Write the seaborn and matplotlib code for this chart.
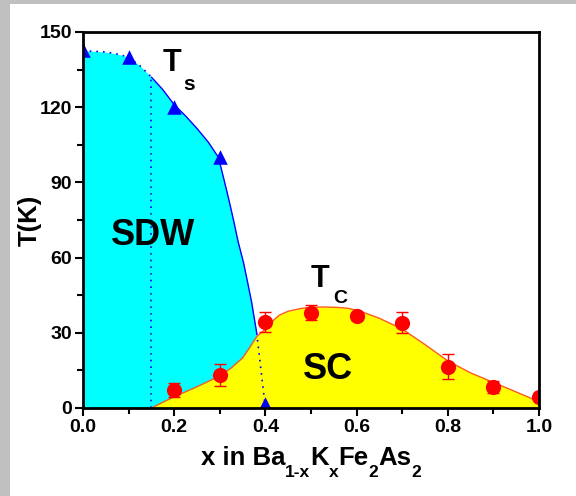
import numpy as np
import pandas as pd
import matplotlib
matplotlib.use("Agg")
import matplotlib.pyplot as plt
from matplotlib.patches import Rectangle
import seaborn as sns

# ---- data ----
ts_x = [0.0, 0.1, 0.2, 0.3, 0.4]
ts_T = [143.0, 140.0, 120.0, 100.0, 1.5]

tc_x = [0.2, 0.3, 0.4, 0.5, 0.6, 0.7, 0.8, 0.9, 1.0]
tc_T = [7.2, 13.2, 34.4, 38.0, 36.7, 34.0, 16.5, 8.5, 4.3]
tc_err = [2.8, 4.5, 4.0, 3.0, 1.5, 4.2, 5.1, 2.4, 1.0]

# boundary of the SDW phase (Ts line)
ts_line_x = [0.0, 0.025, 0.05, 0.075, 0.1, 0.125, 0.15, 0.175, 0.2, 0.225, 0.25,
             0.275, 0.297, 0.31, 0.32, 0.33, 0.34, 0.352, 0.36, 0.37, 0.381, 0.4]
ts_line_T = [142.5, 142.3, 142.0, 141.2, 140.0, 136.5, 132.0, 127.0, 121.0, 116.5, 111.5,
             106.0, 100.0, 90.5, 83.0, 75.0, 66.5, 58.0, 51.0, 42.0, 29.8, 0.0]

# boundary of the SC dome (Tc line)
tc_line_x = [0.15, 0.175, 0.2, 0.25, 0.3, 0.325, 0.35, 0.365, 0.381, 0.4, 0.415, 0.43,
             0.45, 0.475, 0.5, 0.53, 0.56, 0.58, 0.6, 0.62, 0.65, 0.7, 0.75, 0.8,
             0.85, 0.9, 0.95, 1.0]
tc_line_T = [0.0, 2.3, 4.5, 8.5, 12.8, 16.0, 20.0, 24.0, 28.5, 31.5, 34.5, 37.0,
             38.6, 39.6, 40.2, 40.3, 40.1, 39.8, 39.0, 37.8, 35.8, 31.5, 25.3, 18.8,
             14.0, 10.2, 6.4, 2.5]

sdw_start = 0.15
sdw_start_T = 132.0

x_ticks = [0.0, 0.2, 0.4, 0.6, 0.8, 1.0]
y_ticks = [0, 30, 60, 90, 120, 150]

xlabel_parts = [("x in Ba", False), ("1-x", True), ("K", False), ("x", True),
                ("Fe", False), ("2", True), ("As", False), ("2", True)]

# ---- style ----
sns.set_style("ticks")
plt.rcParams["font.family"] = ["Liberation Sans", "DejaVu Sans"]
plt.rcParams["font.weight"] = "bold"
for k in ["text.color", "axes.labelcolor", "xtick.color", "ytick.color", "axes.edgecolor"]:
    plt.rcParams[k] = "black"

W, H = 576, 496
fig = plt.figure(figsize=(W / 100, H / 100), dpi=100)
fig.patch.set_facecolor("white")
fig.patches.append(Rectangle((0, 0), 10 / W, 1, transform=fig.transFigure,
                             facecolor="#c0c0c0", edgecolor="none", zorder=-10))
fig.patches.append(Rectangle((0, 1 - 4 / H), 1, 4 / H, transform=fig.transFigure,
                             facecolor="#c0c0c0", edgecolor="none", zorder=-10))

ax = fig.add_axes([83 / W, 1 - 408 / H, 456 / W, 376 / H])
ax.set_xlim(0, 1)
ax.set_ylim(0, 150)

ts_df = pd.DataFrame({"x": ts_line_x, "T": ts_line_T})
tc_df = pd.DataFrame({"x": tc_line_x, "T": tc_line_T})

# fills
ax.fill_between(ts_df["x"], 0, ts_df["T"], color="#00ffff", linewidth=0, zorder=1)
ax.fill_between(tc_df["x"], 0, tc_df["T"], color="#ffff00", linewidth=0, zorder=2)

# Ts line: dotted / solid / dotted
n15 = ts_line_x.index(0.15)
nmeet = ts_line_x.index(0.381)
dot = (0, (1, 3))
sns.lineplot(data=ts_df.iloc[: n15 + 1], x="x", y="T", sort=False, ax=ax,
             color="#0000ff", lw=1.2, linestyle=dot, zorder=3)
sns.lineplot(data=ts_df.iloc[n15: nmeet + 1], x="x", y="T", sort=False, ax=ax,
             color="#0000ff", lw=1.0, zorder=3)
sns.lineplot(data=ts_df.iloc[nmeet:], x="x", y="T", sort=False, ax=ax,
             color="#0000ff", lw=1.2, linestyle=dot, zorder=3)
ax.plot([sdw_start, sdw_start], [0, sdw_start_T], color="#0000ff", lw=1.2,
        linestyle=dot, zorder=3)

# Tc line
sns.lineplot(data=tc_df, x="x", y="T", sort=False, ax=ax, color="#ff5a1a",
             lw=1.0, zorder=4)

# data markers
ax.errorbar(tc_x, tc_T, yerr=tc_err, fmt="none", ecolor="#ff0000", elinewidth=1.0,
            capsize=4, capthick=1.0, zorder=5)
sns.scatterplot(x=tc_x, y=tc_T, ax=ax, color="#ff0000", marker="o", s=120,
                linewidth=0, zorder=6)
sns.scatterplot(x=ts_x, y=ts_T, ax=ax, color="#0000ff", marker="^", s=110,
                linewidth=0, zorder=6)

# texts
ax.text(0.154, 69, "SDW", fontsize=26, fontweight="bold", ha="center", va="center", zorder=7)
ax.text(0.537, 15.2, "SC", fontsize=26, fontweight="bold", ha="center", va="center", zorder=7)
ax.text(0.195, 137.6, "T", fontsize=22, fontweight="bold", ha="center", va="center", zorder=7)
ax.text(0.233, 129.0, "s", fontsize=15, fontweight="bold", ha="center", va="center", zorder=7)
ax.text(0.52, 51.5, "T", fontsize=22, fontweight="bold", ha="center", va="center", zorder=7)
ax.text(0.564, 43.7, "C", fontsize=14, fontweight="bold", ha="center", va="center", zorder=7)

# axes
ax.set_xticks(x_ticks)
ax.set_xticklabels([f"{v:.1f}" for v in x_ticks])
ax.set_yticks(y_ticks)
ax.set_yticklabels([str(v) for v in y_ticks])
ax.set_xticks([0.1, 0.3, 0.5, 0.7, 0.9], minor=True)
ax.set_yticks([15, 45, 75, 105, 135], minor=True)
ax.tick_params(axis="both", which="major", direction="out", length=6, width=1.5,
               labelsize=14, pad=2, colors="black")
ax.tick_params(axis="both", which="minor", direction="out", length=4, width=1.5)
for lab in ax.get_xticklabels() + ax.get_yticklabels():
    lab.set_fontweight("bold")
for sp in ax.spines.values():
    sp.set_visible(True)
    sp.set_linewidth(2)
    sp.set_color("black")
    sp.set_zorder(8)

ax.set_xlabel("")
ax.set_ylabel("T(K)", fontsize=18.5, fontweight="bold")
ax.yaxis.set_label_coords(-0.116, 0.5)
ax.yaxis.label.set_va("center")

# x label built from pieces so that subscripts sit low like the reference
renderer = fig.canvas.get_renderer()
base_y = (H - 465) / H
sub_y = (H - 477) / H
texts = []
for s, is_sub in xlabel_parts:
    t = fig.text(0, sub_y if is_sub else base_y, s, fontsize=12.5 if is_sub else 18.5,
                 fontweight="bold", ha="left", va="baseline")
    texts.append(t)
widths = [t.get_window_extent(renderer).width for t in texts]
total = sum(widths)
x0 = 311 - total / 2
for t, w in zip(texts, widths):
    t.set_x(x0 / W)
    x0 += w

fig.savefig("out.png", dpi=100)
